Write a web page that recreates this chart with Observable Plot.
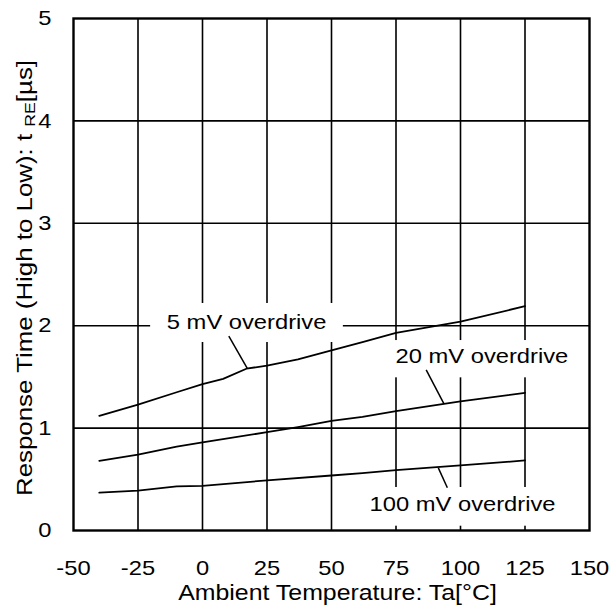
<!DOCTYPE html>
<html><head><meta charset="utf-8">
<script src="https://cdn.jsdelivr.net/npm/d3@7"></script>
<script src="https://cdn.jsdelivr.net/npm/@observablehq/plot@0.6"></script>
<style>body{margin:0;background:#fff}</style>
</head><body><div id="chart"></div>
<script>
// ---- data ----
const temps5 = [-40, -25, -10, 0, 8, 17, 25, 37, 50, 62, 75, 100, 125];
const resp5 = [1.12, 1.23, 1.35, 1.43, 1.48, 1.58, 1.61, 1.67, 1.76, 1.84, 1.93, 2.04, 2.19];
const temps20 = [-40, -25, -10, 0, 25, 37, 50, 62, 75, 100, 125];
const resp20 = [0.68, 0.74, 0.82, 0.86, 0.96, 1.01, 1.07, 1.11, 1.165, 1.26, 1.345];
const temps100 = [-40, -25, -10, 0, 25, 50, 62, 75, 100, 125];
const resp100 = [0.37, 0.39, 0.43, 0.435, 0.49, 0.537, 0.56, 0.59, 0.635, 0.684];
const xTicks = [-50, -25, 0, 25, 50, 75, 100, 125, 150];
const yTicks = [0, 1, 2, 3, 4, 5];
const xTitle = "Ambient Temperature: Ta[°C]";
const yTitleMain = "Response Time (High to Low): t ";
const yTitleSub = "RE";
const yTitleUnit = "[µs]";
// annotation labels (data units)
const labels = ["5 mV overdrive", "20 mV overdrive", "100 mV overdrive"];
const labelX = [17.1, 108.3, 100.8];
const labelY = [2.038, 1.702, 0.256];
const boxX1 = [-20.1, 70, 60], boxX2 = [54.6, 146, 144];
const boxY1 = [1.836, 1.491, 0.042], boxY2 = [2.217, 1.855, 0.42];
const leadX1 = [10.2, 86.7, 94.9], leadY1 = [1.897, 1.569, 0.417];
const leadX2 = [17.3, 93.6, 91.4], leadY2 = [1.585, 1.237, 0.612];

const series = [
  ...temps5.map((t, i) => ({s: "5", t, v: resp5[i]})),
  ...temps20.map((t, i) => ({s: "20", t, v: resp20[i]})),
  ...temps100.map((t, i) => ({s: "100", t, v: resp100[i]}))
];
const ann = labels.map((l, i) => ({l, x: labelX[i], y: labelY[i], x1: boxX1[i], x2: boxX2[i], y1: boxY1[i], y2: boxY2[i],
  lx1: leadX1[i], ly1: leadY1[i], lx2: leadX2[i], ly2: leadY2[i]}));

const FS = 21;
const plot = Plot.plot({
  width: 610, height: 612,
  marginLeft: 73, marginRight: 21, marginTop: 18, marginBottom: 82,
  style: {fontFamily: "'Liberation Sans', Arial, sans-serif", fontSize: FS + "px", background: "white", color: "black"},
  x: {domain: [-50, 150], ticks: xTicks, tickSize: 0, tickPadding: 30, label: null, tickFormat: d => String(d)},
  y: {domain: [0, 5], ticks: yTicks, tickSize: 0, tickPadding: 22, label: null, tickFormat: d => String(d)},
  marks: [
    Plot.ruleX(xTicks.slice(1, -1), {stroke: "#000", strokeWidth: 1.6}),
    Plot.ruleY(yTicks.slice(1, -1), {stroke: "#000", strokeWidth: 1.6}),
    Plot.rect(ann, {x1: "x1", x2: "x2", y1: "y1", y2: "y2", fill: "white"}),
    Plot.frame({stroke: "#000", strokeWidth: 2.4}),
    Plot.line(series, {x: "t", y: "v", z: "s", stroke: "#000", strokeWidth: 1.8}),
    Plot.link(ann, {x1: "lx1", y1: "ly1", x2: "lx2", y2: "ly2", stroke: "#000", strokeWidth: 1.5}),
    Plot.text(ann, {x: "x", y: "y", text: "l", fontSize: FS, fill: "#000"}),
    Plot.text([xTitle], {frameAnchor: "bottom", dy: 69, dx: 6, fontSize: 22, fill: "#000"})
  ]
});
document.getElementById("chart").appendChild(plot);

// stretch glyphs horizontally along the text (reference type is wider than Arial)
plot.querySelectorAll("text").forEach(t => {
  const L = t.getComputedTextLength();
  if (L > 0) {
    t.setAttribute("textLength", (L * 1.13).toFixed(1));
    t.setAttribute("lengthAdjust", "spacingAndGlyphs");
  }
});

// rotated y title with subscript "RE", centred on the y scale's range
const yr = plot.scale("y").range;
const cy = (yr[0] + yr[1]) / 2 + 4;
const titleLen = 436;
const yt = d3.select(plot).append("text")
  .attr("transform", `translate(32,${cy}) rotate(-90)`)
  .attr("x", -titleLen / 2)
  .attr("text-anchor", "start")
  .attr("font-size", 22)
  .attr("fill", "#000");
yt.append("tspan").text(yTitleMain);
yt.append("tspan").attr("font-size", 15).attr("dy", 3).text(yTitleSub);
yt.append("tspan").attr("dy", -3).text(yTitleUnit);
yt.attr("textLength", titleLen).attr("lengthAdjust", "spacingAndGlyphs");
</script>
</body></html>
